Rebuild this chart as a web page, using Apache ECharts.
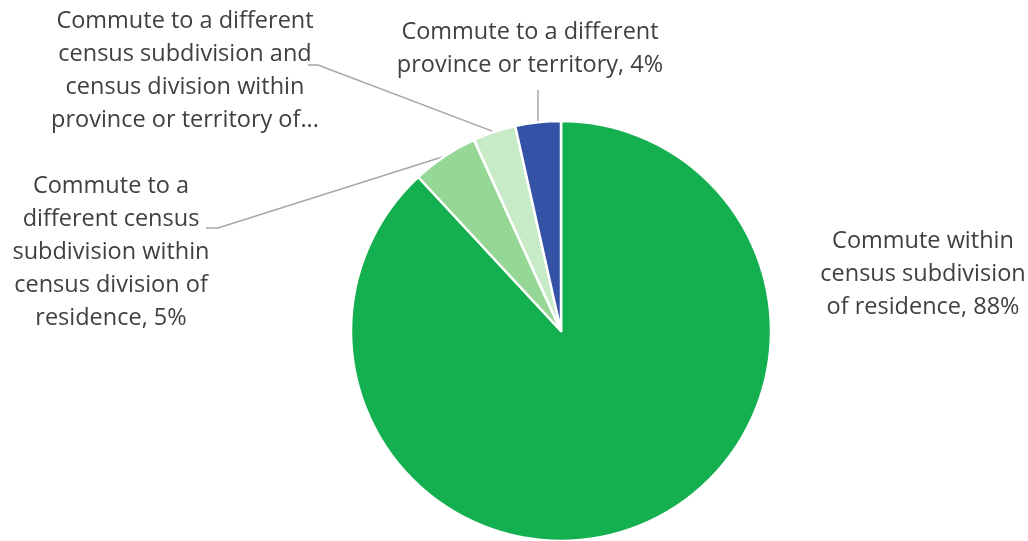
<!DOCTYPE html>
<html>
<head>
<meta charset="utf-8">
<script src="https://cdn.jsdelivr.net/npm/echarts@6/dist/echarts.min.js"></script>
<style>
html,body{margin:0;padding:0;background:#fff;}
#chart{width:1028px;height:541px;}
</style>
</head>
<body>
<div id="chart"></div>
<script>
// Data
var categories = [
  'Commute within census subdivision of residence',
  'Commute to a different census subdivision within census division of residence',
  'Commute to a different census subdivision and census division within province or territory of residence',
  'Commute to a different province or territory'
];
var values = [88.1, 5.1, 3.3, 3.5];
var labelTexts = [
  'Commute within\ncensus subdivision\nof residence, {p}%',
  'Commute to a\ndifferent census\nsubdivision within\ncensus division of\nresidence, {p}%',
  'Commute to a different\ncensus subdivision and\ncensus division within\nprovince or territory of...',
  'Commute to a different\nprovince or territory, {p}%'
];
var colors = ['#14B04F', '#95D795', '#C7EBC7', '#3453A6'];

// Label placement (layout only)
var labelPos = [
  {x: 923, y: 274, line: null},
  {x: 111, y: 252, line: [[218, 228], [206, 228]]},
  {x: 185, y: 71, line: [[318, 65], [308, 65]]},
  {x: 530, y: 49, line: 'vertical', top: 90}
];

var chart = echarts.init(document.getElementById('chart'));
var data = categories.map(function (c, i) {
  return {name: c, value: values[i], itemStyle: {color: colors[i]}};
});

chart.setOption({
  animation: false,
  series: [{
    type: 'pie',
    center: [561, 331],
    radius: [0, 210],
    startAngle: 90,
    clockwise: true,
    data: data,
    itemStyle: {borderColor: '#fff', borderWidth: 2.5},
    label: {
      show: true,
      position: 'outside',
      fontFamily: 'Open Sans',
      fontSize: 23.5,
      lineHeight: 33,
      color: '#404040',
      align: 'center',
      formatter: function (p) {
        return labelTexts[p.dataIndex].replace('{p}', Math.round(p.percent));
      }
    },
    labelLine: {
      show: true,
      length: 10,
      length2: 10,
      lineStyle: {color: '#A6A6A6', width: 1.5}
    },
    emphasis: {disabled: true},
    labelLayout: function (params) {
      var i = params.dataIndex;
      var lp = labelPos[i];
      var pts = params.labelLinePoints;
      var res = {x: lp.x, y: lp.y, align: 'center', verticalAlign: 'middle'};
      if (pts) {
        var p0 = pts[0];
        if (lp.line === null) {
          res.labelLinePoints = [p0, p0, p0];
        } else if (lp.line === 'vertical') {
          res.labelLinePoints = [p0, [p0[0], lp.top], [p0[0], lp.top]];
        } else {
          res.labelLinePoints = [p0, lp.line[0], lp.line[1]];
        }
      }
      return res;
    }
  }]
});
</script>
</body>
</html>
